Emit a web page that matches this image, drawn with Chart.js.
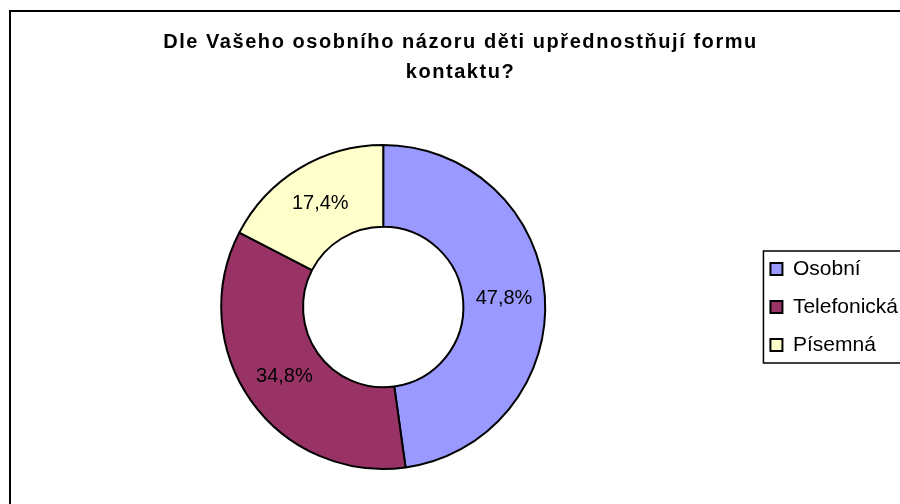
<!DOCTYPE html>
<html lang="cs">
<head>
<meta charset="utf-8">
<title>Forma kontaktu</title>
<script src="https://cdn.jsdelivr.net/npm/chart.js@4.4.1/dist/chart.umd.min.js"></script>
<style>
  html, body { margin: 0; padding: 0; background: #fff; }
  canvas { display: block; }
</style>
</head>
<body>
<canvas id="kontaktChart" width="900" height="504"></canvas>
<script>
// Data z grafu
const nadpis = ['Dle Vašeho osobního názoru děti upřednostňují formu', 'kontaktu?'];
const kategorie = ['Osobní', 'Telefonická', 'Písemná'];
const podily = [47.8, 34.8, 17.4];
const barvy = ['#9999FF', '#993366', '#FFFFCC'];

const pismo = "'Liberation Sans', Arial, sans-serif";

// Excel ma v nadpisu siroke rozestupy pismen
const rozestupNadpisu = {
    id: 'rozestupNadpisu',
    afterInit(chart) {
        const blok = chart.titleBlock;
        const puvodni = blok.draw.bind(blok);
        blok.draw = function () {
            chart.ctx.save();
            chart.ctx.letterSpacing = '1.55px';
            puvodni();
            chart.ctx.restore();
        };
    }
};

// Procenta uvnitr vysecí
const popisky = {
    id: 'popisky',
    afterDatasetsDraw(chart) {
        const ctx = chart.ctx;
        const meta = chart.getDatasetMeta(0);
        ctx.save();
        ctx.font = '20px ' + pismo;
        ctx.fillStyle = '#000';
        ctx.textAlign = 'center';
        ctx.textBaseline = 'middle';
        meta.data.forEach((arc, i) => {
            const p = arc.tooltipPosition();
            const text = podily[i].toFixed(1).replace('.', ',') + '%';
            ctx.fillText(text, p.x, p.y);
        });
        ctx.restore();
    }
};

// Ramecek grafu a legendy
const ramecky = {
    id: 'ramecky',
    afterDraw(chart) {
        const ctx = chart.ctx;
        const leg = chart.legend;
        const pad = leg.options.labels.padding;
        const ih = leg.options.labels.font.size;
        const vyska = kategorie.length * (ih + pad);
        const y0 = (leg.top + pad + leg.bottom - vyska) / 2;
        const horni = y0 + ih / 2 - 18;
        const dolni = y0 + (kategorie.length - 1) * (ih + pad) + ih / 2 + 18;
        ctx.save();
        ctx.strokeStyle = '#000';
        ctx.lineWidth = 1.5;
        ctx.strokeRect(leg.left + pad - 7, horni, 300, dolni - horni);
        ctx.lineWidth = 2;
        ctx.strokeRect(10, 11, 905, 510);
        ctx.restore();
    }
};

const ctx = document.getElementById('kontaktChart').getContext('2d');
new Chart(ctx, {
    type: 'doughnut',
    data: {
        labels: kategorie,
        datasets: [{
            data: podily,
            backgroundColor: barvy,
            borderColor: '#000',
            borderWidth: 2
        }]
    },
    options: {
        responsive: false,
        animation: false,
        radius: 162,
        cutout: '49.5%',
        layout: {
            padding: { left: 13, right: -8, top: 0, bottom: 0 }
        },
        plugins: {
            title: {
                display: true,
                text: nadpis,
                color: '#000',
                font: { family: pismo, size: 20, weight: 'bold', lineHeight: 30 / 20 },
                padding: { top: 27, bottom: 23 }
            },
            legend: {
                position: 'right',
                fullSize: false,
                labels: {
                    color: '#000',
                    font: { family: pismo, size: 21 },
                    boxWidth: 12,
                    boxHeight: 12,
                    padding: 17
                }
            },
            tooltip: { enabled: false }
        }
    },
    plugins: [rozestupNadpisu, popisky, ramecky]
});
</script>
</body>
</html>
